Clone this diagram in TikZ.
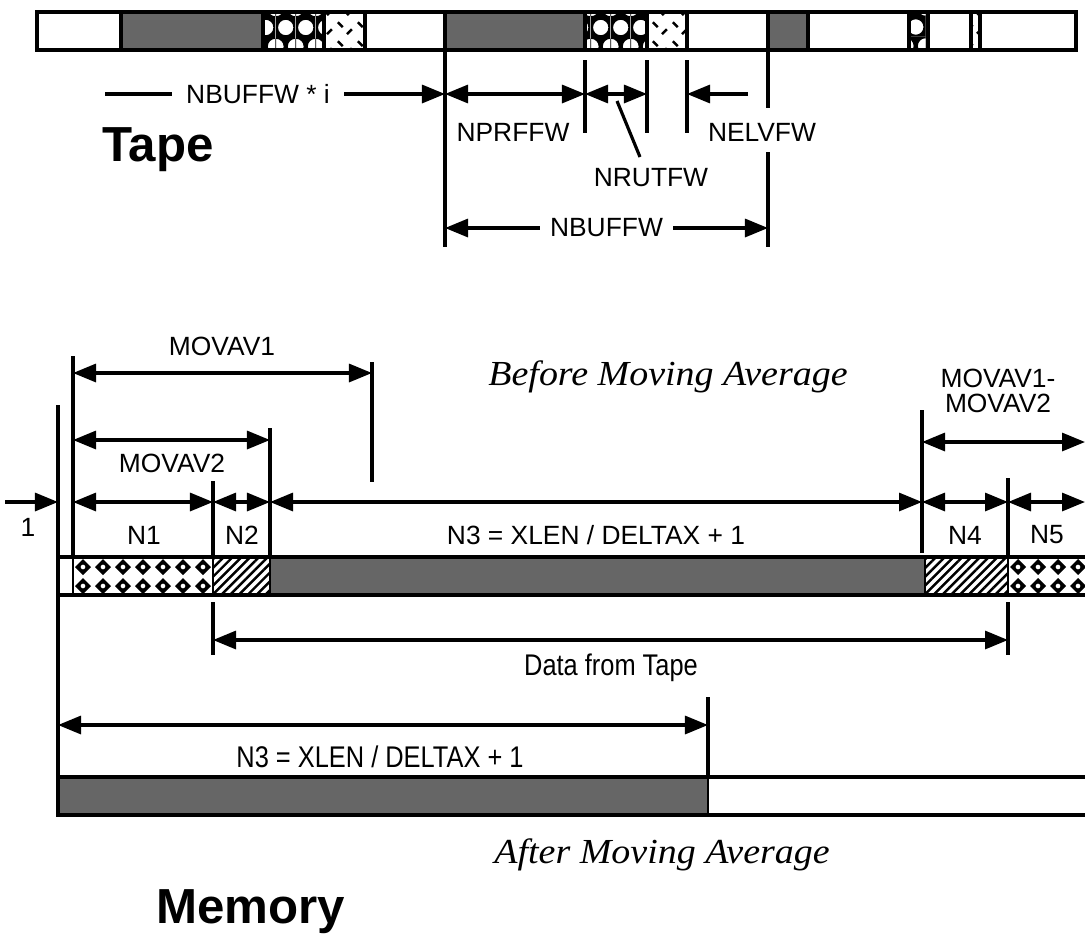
\documentclass[tikz,border=0pt]{standalone}
\usepackage{fontspec}
\setmainfont{Liberation Sans}
\newfontfamily\narrowfont[FakeStretch=0.85]{Liberation Sans}
\newfontfamily\romfont[FakeStretch=1.08]{Liberation Serif}
\usetikzlibrary{arrows.meta,patterns}

\newcommand\dimfont{\fontsize{7.5}{7.2}\selectfont}
\newcommand\bigfont{\bfseries\fontsize{14}{16}\selectfont}

% fill patterns of the tape cells
\pgfdeclarepatternformonly{scales}{\pgfqpoint{0pt}{0pt}}{\pgfqpoint{5.6pt}{10.8pt}}{\pgfqpoint{5.6pt}{10.8pt}}{%
  \pgfpathrectangle{\pgfqpoint{0pt}{0pt}}{\pgfqpoint{5.6pt}{10.8pt}}%
  \pgfpathcircle{\pgfqpoint{2.8pt}{2.7pt}}{2.2pt}%
  \pgfpathcircle{\pgfqpoint{0pt}{8.1pt}}{2.2pt}%
  \pgfpathcircle{\pgfqpoint{5.6pt}{8.1pt}}{2.2pt}%
  \pgfseteorule\pgfusepath{fill}}
\pgfdeclarepatternformonly{flecks}{\pgfqpoint{0pt}{0pt}}{\pgfqpoint{5.6pt}{5.4pt}}{\pgfqpoint{5.6pt}{5.4pt}}{%
  \pgfsetlinewidth{0.7pt}%
  \pgfpathmoveto{\pgfqpoint{0.8pt}{4.2pt}}\pgfpathlineto{\pgfqpoint{2.2pt}{2.8pt}}%
  \pgfpathmoveto{\pgfqpoint{3.4pt}{0.8pt}}\pgfpathlineto{\pgfqpoint{4.8pt}{2.2pt}}%
  \pgfusepath{stroke}}
\pgfdeclarepatternformonly{hatch}{\pgfqpoint{-1pt}{-1pt}}{\pgfqpoint{3.5pt}{3.5pt}}{\pgfqpoint{2.5pt}{2.5pt}}{%
  \pgfsetlinewidth{0.7pt}%
  \pgfpathmoveto{\pgfqpoint{0pt}{0pt}}\pgfpathlineto{\pgfqpoint{2.51pt}{2.51pt}}%
  \pgfusepath{stroke}}

\begin{document}
\begin{tikzpicture}[x=0.01cm, y=-0.01cm, >={Triangle[length=2.3mm,width=1.8mm]},
  seg/.style={draw, line width=1.3pt},
  divider/.style={line width=0.6pt},
  tick/.style={line width=0.9pt},
  dim/.style={<->, line width=0.9pt},
  dimr/.style={->, line width=0.9pt},
  lab/.style={font=\dimfont, inner sep=1.5pt},
  narrowlab/.style={font={\narrowfont\fontsize{8.5}{10}\selectfont}, inner sep=1.5pt},
  big/.style={font=\bigfont},
  ital/.style={font={\romfont\itshape\fontsize{10}{12}\selectfont}},
  blank/.style={fill=white},
  dith/.style={fill=black!60},
  scal/.style={pattern=scales},
  fleck/.style={pattern=flecks},
  hatc/.style={pattern=hatch},
  diam/.style={fill=white},
  gem/.style={fill=black, even odd rule},
]
  \useasboundingbox (0,0) rectangle (1085,948);

  % tape
  \foreach \a/\b/\p in {37/121/blank, 121/263/dith, 263/324/scal, 324/365/fleck,
      365/445/blank, 445/585/dith, 585/647/scal, 647/687/fleck, 687/768/blank,
      768/808/dith, 808/909/blank, 909/928/scal, 928/971/blank, 971/980/fleck,
      980/1076/blank}
    \draw[seg, \p] (\a,12) rectangle (\b,50);

  \draw[tick] (445,50) -- (445,247);
  \draw[tick] (585,60) -- (585,133);
  \draw[tick] (647,60) -- (647,133);
  \draw[tick] (687,60) -- (687,133);
  \draw[tick] (768,50) -- (768,108) (768,152) -- (768,247);

  \coordinate (s0) at (105,94);
  \coordinate (p0) at (445,94);
  \coordinate (p1) at (585,94);
  \coordinate (p2) at (647,94);
  \coordinate (p3) at (687,94);
  \coordinate (e0) at (748,94);
  \coordinate (q0) at (445,228);
  \coordinate (q1) at (768,228);
  \coordinate (r0) at (617,101);
  \coordinate (r1) at (640,157);

  \draw[dimr] (s0) -- node[lab, fill=white, pos=0.45, inner xsep=4pt] (lbi) {NBUFFW * i} (p0);
  \draw[dim] (p0) -- (p1);
  \draw[dim] (p1) -- (p2);
  \draw[dimr] (e0) -- (p3);
  \draw[dim] (q0) -- node[lab, fill=white, inner xsep=3pt] (lbuf) {NBUFFW} (q1);
  \draw[tick] (r0) -- (r1);

  \node[lab] (lprf) at (513,132) {NPRFFW};
  \node[lab] (lrut) at (651,178) {NRUTFW};
  \node[lab] (lelv) at (762,132) {NELVFW};
  \node[big] (ltape) at (158,150) {Tape};

  % memory before the moving average
  \foreach \a/\b/\p in {58/73/blank, 73/213/diam, 213/270/hatc, 270/925/dith,
      925/1008/hatc, 1008/1085/diam}
    \fill[\p] (\a,557) rectangle (\b,595);
  \foreach \x in {83,103,...,203,1018,1038,...,1078}
    \foreach \y in {567,586}
      \path[gem] (\x-8,\y) -- (\x,\y-8) -- (\x+8,\y) -- (\x,\y+8) -- cycle
        (\x,\y) circle[radius=2.5];
  \foreach \x in {73,213,270,925,1008}
    \draw[divider] (\x,557) -- (\x,595);
  \draw[seg] (1085,557) -| (58,595) -- (1085,595);

  \draw[tick] (73,356) -- (73,557);
  \draw[tick] (372,362) -- (372,482);
  \draw[tick] (270,428) -- (270,557);
  \draw[tick] (213,481) -- (213,557);
  \draw[tick] (58,405) -- (58,557);
  \draw[tick] (922,410) -- (922,553);
  \draw[tick] (1008,478) -- (1008,557);

  \coordinate (m0) at (73,373);
  \coordinate (m1) at (372,373);
  \coordinate (v0) at (73,440);
  \coordinate (v1) at (270,440);
  \coordinate (d0) at (922,442);
  \coordinate (d1) at (1085,442);
  \coordinate (o0) at (5,502);
  \coordinate (n0) at (58,502);
  \coordinate (n1) at (73,502);
  \coordinate (n2) at (213,502);
  \coordinate (n3) at (270,502);
  \coordinate (n4) at (922,502);
  \coordinate (n5) at (1008,502);
  \coordinate (n6) at (1085,502);

  \draw[dim] (m0) -- (m1);
  \draw[dim] (v0) -- (v1);
  \draw[dim] (d0) -- (d1);
  \draw[dimr] (o0) -- (n0);
  \draw[dim] (n1) -- (n2);
  \draw[dim] (n2) -- (n3);
  \draw[dim] (n3) -- (n4);
  \draw[dim] (n4) -- (n5);
  \draw[dim] (n5) -- (n6);

  \node[lab] (lmv1) at (222,346) {MOVAV1};
  \node[lab] (lmv2) at (172,463) {MOVAV2};
  \node[lab, align=center] (ldiff) at (998,391) {MOVAV1-\\MOVAV2};
  \node[lab] (lone) at (28,527) {1};
  \node[lab] (ln1) at (144,535) {N1};
  \node[lab] (ln2) at (242,535) {N2};
  \node[lab] (ln3) at (596,535) {N3 = XLEN / DELTAX + 1};
  \node[lab] (ln4) at (965,535) {N4};
  \node[lab] (ln5) at (1047,535) {N5};
  \node[ital] (lbefore) at (668,377) {Before Moving Average};

  % data read from tape
  \draw[tick] (58,595) -- (58,777);
  \draw[tick] (213,602) -- (213,655);
  \draw[tick] (1008,602) -- (1008,655);
  \coordinate (t0) at (213,640);
  \coordinate (t1) at (1008,640);
  \draw[dim] (t0) -- (t1);
  \node[narrowlab] (ldata) at (611,668) {Data from Tape};

  % memory after the moving average
  \fill[dith] (58,777) rectangle (708,815);
  \draw[divider] (708,777) -- (708,815);
  \draw[seg] (1085,777) -| (58,815) -- (1085,815);
  \draw[tick] (708,697) -- (708,777);
  \coordinate (a0) at (58,725);
  \coordinate (a1) at (708,725);
  \draw[dim] (a0) -- (a1);
  \node[narrowlab] (lafter) at (380,757) {N3 = XLEN / DELTAX + 1};

  \node[ital] (lafterma) at (662,855) {After Moving Average};
  \node[big] (lmem) at (251,912) {Memory};
\end{tikzpicture}
\end{document}
